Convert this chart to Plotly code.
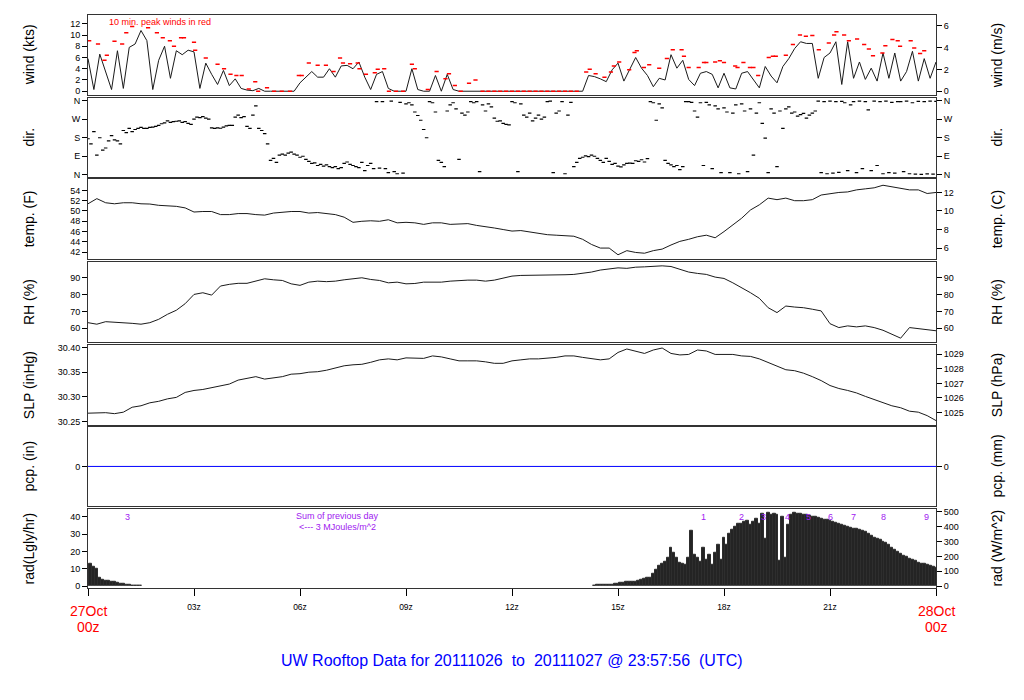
import plotly.graph_objects as go

# ---------------- data ----------------
# wind speed, kts, every 10 minutes from 00z to 24z
wind_step_min = 10
wind_kts = [
    5.8, 0.3, 6.6, 3.5, 0.3, 7.2, 0.5, 7.8, 8.4, 10.8, 9.0, 0.3,
    5.5, 8.0, 2.3, 7.2, 6.5, 7.3, 7.0, 0.5, 5.0, 3.0, 1.2, 3.7,
    1.0, 2.2, 0.5, 0.2, 0.1, 0.5, 0.0, 0.0, 0.0, 0.0, 0.0, 0.0,
    1.5, 2.5, 3.5, 2.5, 2.5, 4.0, 2.5, 4.5, 4.6, 4.0, 5.2, 2.5,
    0.3, 3.0, 3.5, 0.5, 0.0, 0.0, 0.0, 4.0, 0.3, 0.0, 0.0, 2.8,
    0.0, 3.0, 0.3, 0.0, 0.0, 0.0, 0.0, 0.0, 0.0, 0.0, 0.0, 0.0,
    0.0, 0.0, 0.0, 0.0, 0.0, 0.0, 0.0, 0.0, 0.0, 0.0, 0.0, 0.0,
    0.0, 2.8, 2.6, 2.2, 1.7, 3.8, 5.0, 1.8, 3.9, 6.0, 4.1, 2.8,
    0.8, 2.3, 2.0, 6.5, 4.1, 5.5, 2.1, 1.0, 3.2, 3.5, 3.0, 0.6,
    3.2, 0.6, 0.4, 3.2, 3.5, 2.1, 0.6, 4.4, 2.7, 1.5, 4.4, 5.8,
    7.6, 8.8, 8.5, 8.5, 2.3, 6.0, 6.8, 8.8, 1.2, 8.8, 2.3, 5.2,
    2.1, 4.1, 1.8, 6.8, 2.3, 6.8, 1.8, 3.5, 7.1, 1.8, 5.8, 2.3,
    5.2,
]

# 10-minute peak winds (red dashes): minute of day and kts
gust_min = [
    2, 17, 28, 32, 45, 58, 65, 75, 102, 117,
    127, 139, 146, 158, 163, 180, 182, 200, 220, 231,
    242, 252, 261, 273, 284, 289, 304, 316, 329, 343,
    358, 363, 375, 390, 404, 417, 428, 433, 445, 458,
    461, 472, 487, 492, 503, 511, 523, 535, 550, 555,
    577, 592, 607, 613, 623, 633, 647, 658, 670, 680,
    690, 700, 710, 720, 730, 740, 750, 760, 770, 780,
    790, 800, 810, 820, 830, 846, 852, 862, 877, 888,
    893, 902, 919, 928, 932, 944, 953, 970, 983, 993,
    1008, 1012, 1020, 1037, 1046, 1050, 1065, 1073, 1080, 1099,
    1103, 1113, 1124, 1130, 1138, 1156, 1163, 1168, 1185, 1197,
    1209, 1219, 1230, 1241, 1258, 1267, 1271, 1284, 1292, 1306,
    1318, 1326, 1333, 1349, 1354, 1366, 1375, 1379, 1397, 1403,
    1413, 1420,
]
gust_kts = [
    9.0, 8.4, 5.5, 6.4, 8.9, 8.4, 10.4, 11.5, 11.3, 10.4,
    9.5, 9.0, 8.0, 9.5, 9.5, 8.7, 7.3, 5.9, 4.8, 4.0,
    3.0, 2.8, 2.8, 0.4, 1.7, 0.0, 0.6, 0.0, 0.0, 0.0,
    2.8, 2.8, 5.0, 4.6, 4.6, 3.5, 5.9, 5.0, 4.9, 5.0,
    4.0, 3.0, 3.3, 3.9, 4.0, 0.0, 0.0, 0.0, 4.8, 4.0,
    0.3, 3.5, 2.2, 3.1, 1.0, 0.0, 1.4, 2.0, 0.0, 0.0,
    0.0, 0.0, 0.0, 0.0, 0.0, 0.0, 0.0, 0.0, 0.0, 0.0,
    0.0, 0.0, 0.0, 0.0, 0.0, 3.4, 3.9, 3.1, 2.5, 3.4,
    4.5, 5.2, 3.8, 6.9, 7.2, 4.2, 4.7, 4.1, 5.8, 7.4,
    7.4, 6.2, 4.2, 4.2, 5.1, 5.1, 5.2, 5.4, 5.1, 4.5,
    4.2, 5.1, 4.2, 4.2, 2.8, 6.0, 6.2, 6.2, 6.4, 8.3,
    10.0, 9.8, 9.9, 7.4, 8.6, 10.0, 10.6, 10.0, 9.0, 9.3,
    8.3, 7.5, 6.3, 6.8, 8.1, 9.2, 9.0, 8.0, 9.0, 7.7,
    6.7, 7.2,
]

# wind direction, degrees, every 5 minutes (one row per hour)
dir_step_min = 5
dir_deg = [
    175, 150, 210, 95, 180, 120, 130, 165, 190, 170, 165, 150,
    215, 205, 225, 210, 220, 225, 230, 225, 225, 230, 232, 235,
    240, 248, 252, 262, 255, 258, 260, 262, 255, 258, 250, 245,
    270, 280, 278, 283, 275, 270, 228, 225, 228, 226, 232, 238,
    240, 240, 280, 290, 278, 283, 235, 225, 290, 335, 225, 215,
    200, 150, 70, 80, 60, 95, 100, 95, 105, 110, 100, 95,
    85, 90, 75, 65, 55, 58, 45, 50, 42, 48, 40, 35,
    40, 30, 35, 55, 62, 50, 45, 40, 35, 60, 20, 45,
    55, 30, 355, 32, 355, 30, 10, 358, 15, 5, 352, 8,
    345, 350, 340, 305, 288, 265, 220, 180, 355, 350, 305, 70,
    60, 40, 310, 340, 350, 320, 75, 300, 290, 305, 355, 350,
    355, 15, 340, 310, 345, 330, 275, 260, 262, 250, 245, 242,
    355, 350, 15, 345, 290, 280, 300, 262, 275, 290, 270, 280,
    355, 358, 10, 300, 310, 355, 5, 290, 352, 40, 60, 80,
    85, 92, 88, 95, 90, 80, 70, 60, 80, 65, 50, 55,
    42, 38, 48, 55, 57, 55, 68, 65, 73, 62, 78, 355,
    350, 265, 345, 325, 70, 55, 48, 40, 45, 25, 40, 355,
    355, 352, 310, 280, 350, 45, 352, 340, 30, 335, 320, 10,
    325, 305, 10, 300, 340, 5, 345, 310, 15, 320, 95, 300,
    350, 250, 178, 10, 320, 300, 40, 310, 225, 320, 330, 300,
    305, 285, 292, 298, 275, 290, 300, 310, 358, 10, 355, 5,
    358, 8, 355, 12, 357, 350, 20, 340, 355, 10, 358, 30,
    355, 315, 20, 358, 45, 355, 5, 358, 10, 352, 8, 355,
    355, 15, 358, 5, 350, 3, 357, 2, 355, 4, 358, 3,
    357,
]

# temperature (F), RH (%), SLP (inHg): every 15 minutes
met_step_min = 15
temp_f = [
    51.4, 52.4, 51.6, 51.4, 51.6, 51.6, 51.4, 51.35, 51.1, 51.0, 50.9, 50.6,
    49.8, 49.9, 49.9, 49.3, 49.3, 49.5, 49.5, 49.3, 49.2, 49.6, 49.8, 49.9,
    49.9, 49.6, 49.7, 49.5, 49.3, 48.8, 47.8, 48.0, 48.1, 48.0, 48.3, 47.7,
    47.8, 47.7, 47.4, 47.7, 47.7, 47.4, 47.5, 47.55, 47.2, 47.0, 46.7, 46.4,
    46.1, 46.2, 45.9, 45.7, 45.4, 45.3, 45.2, 45.1, 44.5, 43.5, 42.8, 42.8,
    41.5, 42.3, 41.95, 41.8, 42.3, 42.6, 43.4, 44.1, 44.5, 45.0, 45.3, 44.8,
    46.0, 47.3, 48.6, 50.2, 51.2, 52.5, 52.2, 52.5, 52.0, 52.0, 52.2, 53.1,
    53.4, 53.6, 53.7, 54.1, 54.3, 54.5, 55.0, 54.7, 54.3, 54.1, 54.1, 53.4,
    53.6,
]
rh_pct = [
    63.3, 62.4, 63.9, 63.7, 63.3, 62.9, 62.4, 63.3, 65.3, 68.3, 70.7, 74.6,
    80.1, 81.1, 79.7, 85.1, 86.1, 86.7, 86.7, 88.0, 89.4, 88.8, 88.4, 86.4,
    85.5, 87.4, 88.0, 87.7, 88.0, 88.8, 89.4, 90.0, 89.0, 88.4, 87.0, 87.4,
    86.4, 86.6, 87.4, 87.4, 87.4, 88.0, 88.4, 88.6, 88.6, 88.0, 88.6, 90.0,
    91.0, 91.4, 91.4, 91.6, 91.6, 91.6, 91.8, 92.0, 92.6, 93.4, 94.6, 95.3,
    95.9, 95.6, 96.3, 96.5, 96.9, 97.1, 96.7, 95.0, 93.4, 92.6, 92.0, 90.4,
    89.6, 87.0, 84.1, 81.1, 77.8, 72.2, 69.3, 73.2, 72.6, 72.2, 71.3, 70.3,
    62.7, 60.4, 61.4, 60.8, 61.4, 60.4, 58.8, 56.4, 54.1, 60.4, 59.8, 59.5,
    58.5,
]
slp_inhg = [
    30.267, 30.268, 30.268, 30.266, 30.269, 30.279, 30.282, 30.288, 30.291, 30.296, 30.299, 30.309,
    30.313, 30.315, 30.319, 30.323, 30.326, 30.334, 30.338, 30.341, 30.336, 30.338, 30.341, 30.346,
    30.347, 30.350, 30.351, 30.354, 30.358, 30.363, 30.365, 30.366, 30.370, 30.375, 30.377, 30.375,
    30.379, 30.378, 30.378, 30.383, 30.381, 30.377, 30.373, 30.373, 30.373, 30.371, 30.368, 30.368,
    30.373, 30.375, 30.377, 30.377, 30.378, 30.380, 30.383, 30.383, 30.380, 30.377, 30.375, 30.377,
    30.390, 30.397, 30.393, 30.388, 30.395, 30.399, 30.388, 30.385, 30.386, 30.395, 30.393, 30.386,
    30.386, 30.386, 30.383, 30.382, 30.377, 30.370, 30.363, 30.355, 30.353, 30.348, 30.341, 30.333,
    30.323, 30.317, 30.313, 30.308, 30.301, 30.295, 30.288, 30.282, 30.278, 30.271, 30.269, 30.262,
    30.252,
]

# precipitation (in), hourly
pcp_in = [0.0, 0.0, 0.0, 0.0, 0.0, 0.0, 0.0, 0.0, 0.0, 0.0, 0.0, 0.0, 0.0,
          0.0, 0.0, 0.0, 0.0, 0.0, 0.0, 0.0, 0.0, 0.0, 0.0, 0.0, 0.0]

# solar radiation (Lgly/hr), 5-minute values, evening tail and daytime
rad_eve_start_min = 0
rad_eve = [5.7, 12.8, 11.5, 10.2, 5.0, 3.6, 3.4, 3.2, 2.7, 2.4, 2.0, 1.5,
           1.2, 0.9, 0.7, 0.5, 0.4, 0.2, 0.0]
rad_day_start_min = 860
rad_day = [
    0.5, 0.6, 0.7, 0.8, 0.9, 1.0, 1.1, 1.3, 1.5, 1.7, 2.0, 2.3,
    2.5, 2.6, 2.8, 2.9, 3.5, 4.2, 4.6, 4.8, 7.0, 9.5, 11.8, 12.8,
    14.0, 16.5, 21.9, 19.1, 16.2, 13.8, 12.8, 12.4, 16.5, 31.8, 18.1, 16.2,
    14.3, 21.9, 15.2, 18.1, 12.4, 19.1, 23.8, 15.2, 28.0, 23.8, 30.5, 32.4,
    34.3, 36.2, 36.0, 37.1, 37.5, 35.3, 37.0, 39.1, 36.2, 41.9, 27.6, 42.5,
    41.0, 42.0, 41.3, 14.4, 40.3, 16.3, 35.5, 41.5, 42.3, 42.0, 41.9, 41.5,
    41.2, 40.8, 40.3, 39.8, 39.4, 39.0, 38.6, 38.2, 37.8, 37.4, 36.8, 36.1,
    35.5, 35.0, 34.5, 33.9, 33.4, 33.0, 32.6, 32.1, 31.7, 30.3, 29.2, 28.2,
    27.4, 26.6, 25.7, 24.9, 23.7, 22.2, 20.8, 19.6, 18.6, 17.8, 17.0, 16.1,
    15.3, 14.6, 13.8, 13.2, 12.7, 12.2, 11.7, 11.2, 10.9,
]
rad_step_min = 5

# purple hour labels along the top of the radiation panel
rad_label_text = ["3", "1", "2", "3", "4", "5", "6", "7", "8", "9"]
rad_label_hours = [1.13, 17.42, 18.49, 19.13, 19.81, 20.40, 21.0, 21.66, 22.5, 23.74]

# x-axis ticks
xtick_hours = [0, 3, 6, 9, 12, 15, 18, 21, 24]
xtick_text = ["", "03z", "06z", "09z", "12z", "15z", "18z", "21z", ""]

# ---------------- layout helpers ----------------
W, H = 1024, 700
ML, MR, MT, MB = 88, 88, 13, 112
PW, PH = W - ML - MR, H - MT - MB
panel_top_px = [13.5, 96, 178, 261, 344.5, 426, 508.5]
panel_h_px = 80

def dom(i):
    top = 1 - (panel_top_px[i] - MT) / PH
    return [max(0.0, top - panel_h_px / PH), min(1.0, top)]

def py(ypx):
    return (H - MB - ypx) / PH

def px_x(xpx):
    return (xpx - ML) / PW

FONT = "Liberation Sans, Arial, Helvetica, sans-serif"
LINE = "#333333"

kts2ms = 0.514444
f2c = lambda f: (f - 32) / 1.8
inhg2hpa = 33.8639
in2mm = 25.4
lgly2w = 11.63

panels = [
    ("wind (kts)", "wind (m/s)", [-0.71, 13.47], [-0.71 * kts2ms, 13.47 * kts2ms],
     [0, 2, 4, 6, 8, 10, 12], None, [0, 2, 4, 6], None),
    ("dir.", "dir.", [-13, 374.5], [-13, 374.5],
     [0, 90, 180, 270, 360], ["N", "E", "S", "W", "N"], [0, 90, 180, 270, 360], ["N", "E", "S", "W", "N"]),
    ("temp. (F)", "temp. (C)", [40.65, 56.13], [f2c(40.65), f2c(56.13)],
     [42, 44, 46, 48, 50, 52, 54], None, [6, 8, 10, 12], None),
    ("RH (%)", "RH (%)", [51.9, 99.3], [51.9, 99.3],
     [60, 70, 80, 90], None, [60, 70, 80, 90], None),
    ("SLP (inHg)", "SLP (hPa)", [30.2429, 30.4044], [30.2429 * inhg2hpa, 30.4044 * inhg2hpa],
     [30.25, 30.30, 30.35, 30.40], ["30.25", "30.30", "30.35", "30.40"],
     [1025, 1026, 1027, 1028, 1029], None),
    ("pcp. (in)", "pcp. (mm)", [-0.1, 0.1], [-0.1 * in2mm, 0.1 * in2mm],
     [0], None, [0], None),
    ("rad(Lgly/hr)", "rad (W/m^2)", [-1.03, 44.69], [-1.03 * lgly2w, 44.69 * lgly2w],
     [0, 10, 20, 30, 40], None, [0, 100, 200, 300, 400, 500], None),
]

fig = go.Figure()

def xa(i):
    return "x" if i == 0 else f"x{i+1}"

def ya(i, right=False):
    n = 2 * i + (2 if right else 1)
    return "y" if n == 1 else f"y{n}"

# wind
fig.add_trace(go.Scatter(
    x=[k * wind_step_min / 60 for k in range(len(wind_kts))], y=wind_kts,
    mode="lines", line=dict(color="#1a1a1a", width=1), xaxis=xa(0), yaxis=ya(0), hoverinfo="skip"))
fig.add_trace(go.Scatter(
    x=[m / 60 for m in gust_min], y=gust_kts, mode="markers",
    marker=dict(symbol="line-ew", size=3, line=dict(width=1.5, color="#ff0000")),
    xaxis=xa(0), yaxis=ya(0), hoverinfo="skip"))
# direction
fig.add_trace(go.Scatter(
    x=[k * dir_step_min / 60 for k in range(len(dir_deg))], y=dir_deg, mode="markers",
    marker=dict(symbol="line-ew", size=2.5, line=dict(width=1.2, color="#000000")),
    xaxis=xa(1), yaxis=ya(1), hoverinfo="skip"))
# temp, RH, SLP
for i, series in [(2, temp_f), (3, rh_pct), (4, slp_inhg)]:
    fig.add_trace(go.Scatter(
        x=[k * met_step_min / 60 for k in range(len(series))], y=series,
        mode="lines", line=dict(color="#1a1a1a", width=1), xaxis=xa(i), yaxis=ya(i), hoverinfo="skip"))
# pcp
fig.add_trace(go.Scatter(
    x=list(range(len(pcp_in))), y=pcp_in, mode="lines",
    line=dict(color="#0000ff", width=1), xaxis=xa(5), yaxis=ya(5), hoverinfo="skip"))
# radiation
rad_x = ([(rad_eve_start_min + k * rad_step_min) / 60 for k in range(len(rad_eve))] +
         [(rad_day_start_min + k * rad_step_min) / 60 for k in range(len(rad_day))])
fig.add_trace(go.Bar(
    x=rad_x, y=rad_eve + rad_day, width=rad_step_min / 60,
    marker=dict(color="#242424", line=dict(color="#2e2e2e", width=1.0)),
    xaxis=xa(6), yaxis=ya(6), hoverinfo="skip"))
# empty traces so right-hand axes are registered
for i in range(7):
    fig.add_trace(go.Scatter(x=[], y=[], xaxis=xa(i), yaxis=ya(i, True), showlegend=False, hoverinfo="skip"))

layout = dict(
    width=W, height=H, margin=dict(l=ML, r=MR, t=MT, b=MB),
    paper_bgcolor="white", plot_bgcolor="white", showlegend=False, bargap=0,
    font=dict(family=FONT, size=9, color="black"),
)
annotations = []
for i, (lt, rt, lr, rr, lv, ltx, rv, rtx) in enumerate(panels):
    d = dom(i)
    xname = "xaxis" if i == 0 else f"xaxis{i+1}"
    bottom = (i == 6)
    layout[xname] = dict(
        domain=[0, 1], anchor=ya(i), range=[0, 24], showline=True, mirror=True,
        linecolor=LINE, linewidth=1, showgrid=False, zeroline=False,
        ticks="outside" if bottom else "", showticklabels=bottom,
        tickvals=xtick_hours if bottom else None, ticktext=xtick_text if bottom else None,
        ticklen=7, tickcolor="#000", tickfont=dict(size=8.5), ticklabelstandoff=4,
        fixedrange=True,
    )
    ln = 2 * i + 1
    lname = "yaxis" if ln == 1 else f"yaxis{ln}"
    rname = f"yaxis{ln+1}"
    layout[lname] = dict(
        domain=d, anchor=xa(i), range=lr, showline=True, mirror=True, linecolor=LINE,
        linewidth=1, showgrid=False, zeroline=False, ticks="outside", ticklen=5,
        tickcolor="#000", tickvals=lv, ticktext=ltx, tickfont=dict(size=9), fixedrange=True,
    )
    layout[rname] = dict(
        overlaying=ya(i), side="right", anchor=xa(i), range=rr, showline=True,
        linecolor=LINE, linewidth=1, showgrid=False, zeroline=False, ticks="outside",
        ticklen=5, tickcolor="#000", tickvals=rv, ticktext=rtx, tickfont=dict(size=9),
        fixedrange=True,
    )
    ymid = (d[0] + d[1]) / 2
    annotations.append(dict(text=lt, xref="paper", yref="paper", x=px_x(29), y=ymid,
                            textangle=-90, showarrow=False, xanchor="center", yanchor="middle",
                            font=dict(size=14, color="black")))
    annotations.append(dict(text=rt, xref="paper", yref="paper", x=px_x(997), y=ymid,
                            textangle=-90, showarrow=False, xanchor="center", yanchor="middle",
                            font=dict(size=14, color="black")))

annotations.append(dict(text="10 min. peak winds in red", xref="paper", yref="paper",
                        x=px_x(160), y=py(20), showarrow=False, xanchor="center", yanchor="middle",
                        font=dict(size=9, color="#ff0000")))
for xh, top_txt in [(0, "27Oct"), (24, "28Oct")]:
    annotations.append(dict(text=top_txt, xref="x7", yref="paper", x=xh, y=py(611.5),
                            showarrow=False, xanchor="center", yanchor="middle",
                            font=dict(size=14, color="#ff0000")))
    annotations.append(dict(text="00z", xref="x7", yref="paper", x=xh, y=py(627.5),
                            showarrow=False, xanchor="center", yanchor="middle",
                            font=dict(size=14, color="#ff0000")))
for t, xh in zip(rad_label_text, rad_label_hours):
    annotations.append(dict(text=t, xref="x7", yref="paper", x=xh, y=py(516.5),
                            showarrow=False, xanchor="center", yanchor="middle",
                            font=dict(size=9, color="#a020f0")))
annotations.append(dict(text="Sum of previous day", xref="paper", yref="paper",
                        x=px_x(337), y=py(515.5), showarrow=False, xanchor="center",
                        yanchor="middle", font=dict(size=9, color="#a020f0")))
annotations.append(dict(text="<--- 3 MJoules/m^2", xref="paper", yref="paper",
                        x=px_x(337), y=py(526.5), showarrow=False, xanchor="center",
                        yanchor="middle", font=dict(size=9, color="#a020f0")))
annotations.append(dict(
    text="UW Rooftop Data for 20111026\u00a0\u00a0to\u00a0\u00a020111027 @ 23:57:56\u00a0\u00a0(UTC)",
    xref="paper", yref="paper", x=px_x(512), y=py(661), showarrow=False,
    xanchor="center", yanchor="middle", font=dict(size=16, color="#0000ff")))

layout["annotations"] = annotations
fig.update_layout(**layout)
fig.write_html("out.html", config={"displayModeBar": False},
               post_script="document.body.style.margin='0px';")
